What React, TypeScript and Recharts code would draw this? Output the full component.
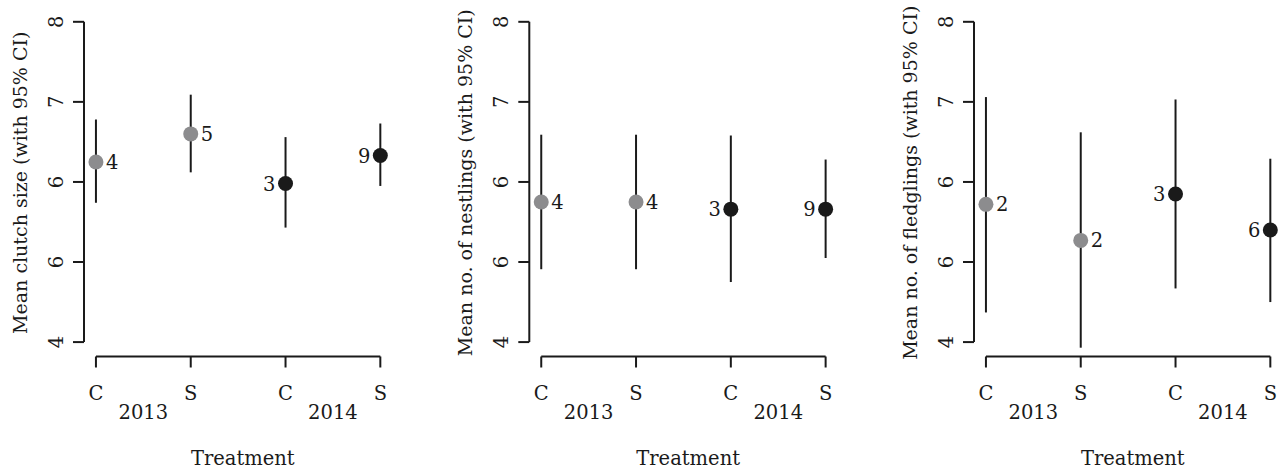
import React from 'react';
import { ScatterChart, Scatter, XAxis, YAxis, ErrorBar, ReferenceLine } from 'recharts';

// ---- data ----
const categories = ['C', 'S', 'C', 'S'];
const years = ['2013', '2014'];
const yearOfCategory = [0, 0, 1, 1];
const yTickValues = [4, 5, 6, 7, 8];
const yTickLabels = ['4', '6', '6', '7', '8']; // as printed in the reference

const clutchMean = [6.25, 6.6, 5.98, 6.33];
const clutchLow = [5.74, 6.12, 5.43, 5.95];
const clutchHigh = [6.78, 7.09, 6.56, 6.73];
const clutchN = [4, 5, 3, 9];

const nestlingMean = [5.75, 5.75, 5.66, 5.66];
const nestlingLow = [4.91, 4.91, 4.75, 5.05];
const nestlingHigh = [6.59, 6.59, 6.58, 6.28];
const nestlingN = [4, 4, 3, 9];

const fledglingMean = [5.72, 5.27, 5.85, 5.4];
const fledglingLow = [4.37, 3.93, 4.67, 4.5];
const fledglingHigh = [7.06, 6.62, 7.03, 6.29];
const fledglingN = [2, 2, 3, 6];

const panelTitles = [
  'Mean clutch size (with 95% CI)',
  'Mean no. of nestlings (with 95% CI)',
  'Mean no. of fledglings (with 95% CI)',
];

// ---- style / layout ----
const FONT = 'DejaVu Serif';
const FS = 19.5;
const FS_TITLE = 19;
const INK = '#1a1a1a';
const GREY = '#8c8c8e';
const YEAR_COLORS = [GREY, INK];
const CHART_H = 471;
const PLOT_TOP = 9;
const PLOT_BOTTOM = 356.5;
const PLOT_W = 307.7;
const Y_W = 80;
const X_DOMAIN: [number, number] = [0.874, 4.12];
const Y_DOMAIN: [number, number] = [3.82, 8.16];

const panels = [
  { left: 0, width: 427, plotLeft: 84, mean: clutchMean, low: clutchLow, high: clutchHigh, n: clutchN },
  { left: 427, width: 427, plotLeft: 102.3, mean: nestlingMean, low: nestlingLow, high: nestlingHigh, n: nestlingN },
  { left: 854, width: 428, plotLeft: 120, mean: fledglingMean, low: fledglingLow, high: fledglingHigh, n: fledglingN },
];

const xTickPositions = [
  ...categories.map((_, i) => i + 1),
  ...years.map((_, k) => k * 2 + 1.5),
];

const XTick = (props: any) => {
  const { x, y, payload } = props;
  const v = payload.value;
  if (Number.isInteger(v)) {
    return (
      <g>
        <line x1={x} y1={y} x2={x} y2={y + 11} stroke={INK} strokeWidth={2} />
        <text x={x} y={y + 43.5} textAnchor="middle" fontFamily={FONT} fontSize={FS} fill={INK}>
          {categories[v - 1]}
        </text>
      </g>
    );
  }
  const k = Math.round((v - 1.5) / 2);
  return (
    <text x={x} y={y + 62.5} textAnchor="middle" fontFamily={FONT} fontSize={FS} fill={INK}>
      {years[k]}
    </text>
  );
};

const YTick = (props: any) => {
  const { x, y, payload } = props;
  const idx = yTickValues.indexOf(payload.value);
  const tx = x - 10;
  return (
    <text x={tx} y={y} transform={`rotate(-90 ${tx} ${y})`} textAnchor="middle" fontFamily={FONT} fontSize={FS} fill={INK}>
      {yTickLabels[idx]}
    </text>
  );
};

const PointShape = (props: any) => {
  const { cx, cy, payload } = props;
  const color = YEAR_COLORS[payload.year];
  const right = payload.year === 0;
  return (
    <g>
      <circle cx={cx} cy={cy} r={7.5} fill={color} />
      <text
        x={right ? cx + 10 : cx - 10}
        y={cy + 7}
        textAnchor={right ? 'start' : 'end'}
        fontFamily={FONT}
        fontSize={FS}
        fill={INK}
      >
        {payload.n}
      </text>
    </g>
  );
};

const Empty = () => <g />;

function Panel({ p, title }: { p: any; title: string }) {
  const data = categories.map((c, i) => ({
    x: i + 1,
    y: p.mean[i],
    err: [p.mean[i] - p.low[i], p.high[i] - p.mean[i]],
    n: p.n[i],
    year: yearOfCategory[i],
  }));
  const rightMargin = p.width - p.plotLeft - PLOT_W;
  const xAxisH = CHART_H - PLOT_BOTTOM;
  const yTitle = (lp: any) => {
    const vb = lp.viewBox;
    const bx = vb.x + vb.width - 57;
    const cy = vb.y + vb.height / 2;
    return (
      <text x={bx} y={cy} transform={`rotate(-90 ${bx} ${cy})`} textAnchor="middle" fontFamily={FONT} fontSize={FS_TITLE} fill={INK}>
        {title}
      </text>
    );
  };
  const xTitle = (lp: any) => {
    const vb = lp.viewBox;
    return (
      <text x={vb.x + vb.width / 2 + 5} y={vb.y + 108.5} textAnchor="middle" fontFamily={FONT} fontSize={FS} fill={INK}>
        Treatment
      </text>
    );
  };
  return (
    <div style={{ position: 'absolute', left: p.left, top: 0 }}>
      <ScatterChart
        width={p.width}
        height={CHART_H}
        margin={{ top: PLOT_TOP, right: rightMargin, bottom: 0, left: p.plotLeft - Y_W }}
      >
        <XAxis
          type="number"
          dataKey="x"
          domain={X_DOMAIN}
          allowDataOverflow
          ticks={xTickPositions}
          interval={0}
          axisLine={false}
          tickLine={false}
          tickSize={0}
          tickMargin={0}
          height={xAxisH}
          tick={<XTick />}
          label={xTitle}
        />
        <YAxis
          type="number"
          dataKey="y"
          domain={Y_DOMAIN}
          allowDataOverflow
          ticks={yTickValues}
          interval={0}
          axisLine={false}
          tickLine={{ stroke: INK, strokeWidth: 2 }}
          tickSize={11}
          tickMargin={0}
          width={Y_W}
          tick={<YTick />}
          label={yTitle}
        />
        <ReferenceLine
          segment={[{ x: X_DOMAIN[0], y: yTickValues[0] }, { x: X_DOMAIN[0], y: yTickValues[yTickValues.length - 1] }]}
          stroke={INK}
          strokeWidth={2}
          ifOverflow="visible"
        />
        <ReferenceLine
          segment={[{ x: 1, y: Y_DOMAIN[0] }, { x: categories.length, y: Y_DOMAIN[0] }]}
          stroke={INK}
          strokeWidth={2}
          ifOverflow="visible"
        />
        <Scatter data={data} shape={<Empty />} isAnimationActive={false}>
          <ErrorBar dataKey="err" direction="y" width={0} stroke={INK} strokeWidth={2} isAnimationActive={false} />
        </Scatter>
        <Scatter data={data} shape={<PointShape />} isAnimationActive={false} />
      </ScatterChart>
    </div>
  );
}

export default function App() {
  return (
    <div style={{ position: 'absolute', left: 0, top: 0, width: 1282, height: 471, background: '#fff' }}>
      {panels.map((p, i) => (
        <Panel key={i} p={p} title={panelTitles[i]} />
      ))}
    </div>
  );
}
